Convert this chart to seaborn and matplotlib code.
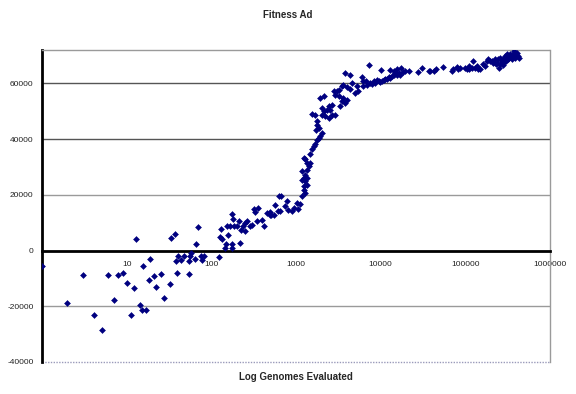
import matplotlib
matplotlib.use("Agg")
import matplotlib.pyplot as plt
import seaborn as sns
import pandas as pd
from matplotlib.ticker import FixedLocator, FixedFormatter, NullLocator

# ---- data (genomes evaluated, fitness) ----
genomes_low = [1, 2.0, 3.05, 4.07, 5.1, 5.95, 7.0, 8.0, 9.0, 10.1, 11.1, 12.1, 13, 14.2, 15.3, 15.8, 17.0,
               18.2, 19, 21.2, 22.4, 25.4, 27.3, 32.7, 33.3, 37.5, 38.5, 39.3, 40.3, 43.7, 47, 53.8, 54.8,
               56.4, 57.4, 63.4, 66.4, 68.9, 75.4, 78.2, 82.5]
fitness_low = [-5600, -18800, -8600, -23000, -28600, -8900, -17700, -8900, -8000, -11800, -23000, -13400, 4300,
               -19700, -21400, -5700, -21200,
               -10400, -2900, -9200, -13000, -8300, -16900, -12100, 4500, 5900, -3700, -8000, -2000, -3500, -2000,
               -3900, -8300, -2000, -800, -3200, 2200, 8500, -2000, -3500, -2000]

genomes_mid = [123, 127, 131, 133, 146, 149, 156, 153, 167, 183, 200, 175, 180, 175, 175, 210, 219,
               225, 236, 251, 251, 263, 288, 301, 315, 324, 355, 345, 395, 414, 453, 487, 496, 510, 543,
               568, 622, 663, 611, 650, 746, 780, 794, 894, 935, 1024, 1042, 1122, 1172, 1227, 1285]
fitness_mid = [-2200, 4900, 7900, 4200, 800, 2500, 5700, 8700, 8700, 8700, 8700, 13200, 11400, 1000, 2400,
               10500, 2800,
               7300, 8700, 9900, 7200, 10500, 8700, 9300, 15000, 13800, 15300, 10500, 11100, 8700, 13500,
               12900, 13800, 12600, 12900, 16500, 19700, 19700, 14100, 14100, 15900, 17700, 14700, 14100,
               15300, 17100, 15000, 16800, 19500, 21900, 20700]

genomes_rise = [3811, 4366, 3639, 3475, 3985, 4570, 4366, 5224, 5470, 5000, 3034, 2903, 3177, 3639, 3985,
                3475, 3811, 3327, 2113, 1931, 2650, 2421, 2533, 2313, 2019, 2113, 2019, 2213, 2421, 1539,
                1686, 1763, 1763, 1845, 1733, 2019, 1931, 1845, 1763, 1686, 1611, 1539, 1472, 1227, 1283,
                1343, 1472, 1406, 1343, 1172, 1283, 1227, 1343, 1172, 1283, 1343, 1250,
                2650, 2903, 2773, 3177]
fitness_rise = [63800, 62900, 59600, 59000, 58800, 60000, 58000, 59000, 57200, 56600, 57200, 56000, 55400,
                54800, 54200, 53600, 53000, 51800, 55400, 54800, 52400, 51800, 50600, 50600, 51200, 50000,
                48800, 48200, 47600, 49200, 48800, 46400, 45200, 44000, 43400, 42200, 41000, 40400, 39800,
                38100, 37500, 36300, 34500, 33300, 32700, 31500, 31500, 30300, 29100, 28500, 27300, 26100,
                26100, 25500, 24900, 23700, 23100,
                48800, 48800, 57200, 57800]

genomes_plateau = [7310, 10050, 12730, 14190, 15520, 17460, 19450, 21330, 27230, 30630, 37400,
                   5995, 6266, 6745, 7516, 8240, 9016, 9862, 10810, 11830, 12950, 13550, 14190, 14830,
                   16250, 17000, 18600, 6266, 6871, 7870, 8610, 9440, 10330, 11300, 12380, 15520]
fitness_plateau = [66500, 64700, 64700, 64400, 65000, 65600, 64400, 64400, 64100, 65600, 64400,
                   62200, 60800, 61000, 60200, 61000, 61400, 60600, 61400, 61700, 62000, 62600, 63200, 63800,
                   63800, 62900, 64100, 59000, 59400, 59800, 60200, 60800, 61000, 61700, 62200, 63200]

genomes_top = [38370, 42760, 44800, 55200, 69200, 72400, 79300, 83000, 86700, 99300, 104000, 109000, 111800,
               119100, 124700, 130400, 136500, 142900, 149500, 163700, 171000, 179100, 187500, 196000,
               205000, 215000, 224000, 230700, 239300, 246000, 252900, 257000, 269000, 282000, 282000,
               295000, 302700, 308000, 314200, 323000, 331900, 338000, 353000, 353000, 370000, 380200,
               387000, 393900, 412100, 424000, 435700, 257000, 276600]
fitness_top = [64400, 64400, 65300, 65800, 64400, 65000, 65900, 65000, 65600, 65600, 65300, 65000, 66200,
               65600, 68000, 65600, 66200, 65300, 65000, 66800, 66200, 68000, 68600, 68000, 68000, 67400,
               68600, 66800, 67400, 68600, 65600, 69200, 68000, 68600, 67400, 69800, 68000, 69200, 70400,
               68600, 69200, 70400, 69800, 68600, 70400, 71600, 69200, 69800, 71000, 69800, 69200, 66800,
               66500]

y_ticks = [-40000, -20000, 0, 20000, 40000, 60000]
x_ticks = [1, 10, 100, 1000, 10000, 100000, 1000000]
x_tick_labels = ["", "10", "100", "1000", "10000", "100000", "1000000"]

df = pd.DataFrame({
    "genomes": genomes_low + genomes_mid + genomes_rise + genomes_plateau + genomes_top,
    "fitness": fitness_low + fitness_mid + fitness_rise + fitness_plateau + fitness_top,
})

sns.set_style("white")
plt.rcParams["font.family"] = ["Liberation Sans", "DejaVu Sans"]

fig = plt.figure(figsize=(5.76, 3.94), dpi=100)
ax = fig.add_axes([42 / 576, 1 - 362 / 394, (550 - 42) / 576, (362 - 50) / 394])

ax.set_xscale("log")
ax.set_xlim(1, 1000000)
ax.set_ylim(-40000, 72000)

# grid lines
for yv, col in [(-20000, "#9a9a9a"), (20000, "#9a9a9a"), (40000, "#555555"), (60000, "#555555")]:
    ax.axhline(yv, color=col, lw=1.0, zorder=1)

sns.scatterplot(data=df, x="genomes", y="fitness", ax=ax, marker="D", s=9,
                color="#000080", edgecolor="#000080", linewidth=0.4, zorder=3, legend=False)

# spines
ax.spines["left"].set_color("black")
ax.spines["left"].set_linewidth(2)
ax.spines["bottom"].set_position(("data", 0))
ax.spines["bottom"].set_color("black")
ax.spines["bottom"].set_linewidth(2)
for side in ["top", "right"]:
    ax.spines[side].set_color("#9a9a9a")
    ax.spines[side].set_linewidth(1)
    ax.spines[side].set_linestyle((0, (1, 1)))
ax.axhline(-40000, color="#9a9aba", lw=1, ls=(0, (1, 1)), zorder=1, clip_on=False)

ax.yaxis.set_major_locator(FixedLocator(y_ticks))
ax.set_yticklabels([str(v) for v in y_ticks])
ax.xaxis.set_major_locator(FixedLocator(x_ticks))
ax.xaxis.set_major_formatter(FixedFormatter(x_tick_labels))
ax.xaxis.set_minor_locator(NullLocator())
ax.tick_params(axis="both", direction="out", length=4, width=1.2, color="black",
               labelsize=6, labelcolor="#222222", pad=2)
ax.tick_params(axis="x", pad=3.5)

ax.set_xlabel("")
ax.set_ylabel("")
fig.text(0.5, 1 - 15 / 394, "Fitness Ad", ha="center", va="center", fontsize=7, fontweight="bold")
fig.text(296 / 576, 1 - 377 / 394, "Log Genomes Evaluated", ha="center", va="center",
         fontsize=7, fontweight="bold")

fig.savefig("out.png", dpi=100)
